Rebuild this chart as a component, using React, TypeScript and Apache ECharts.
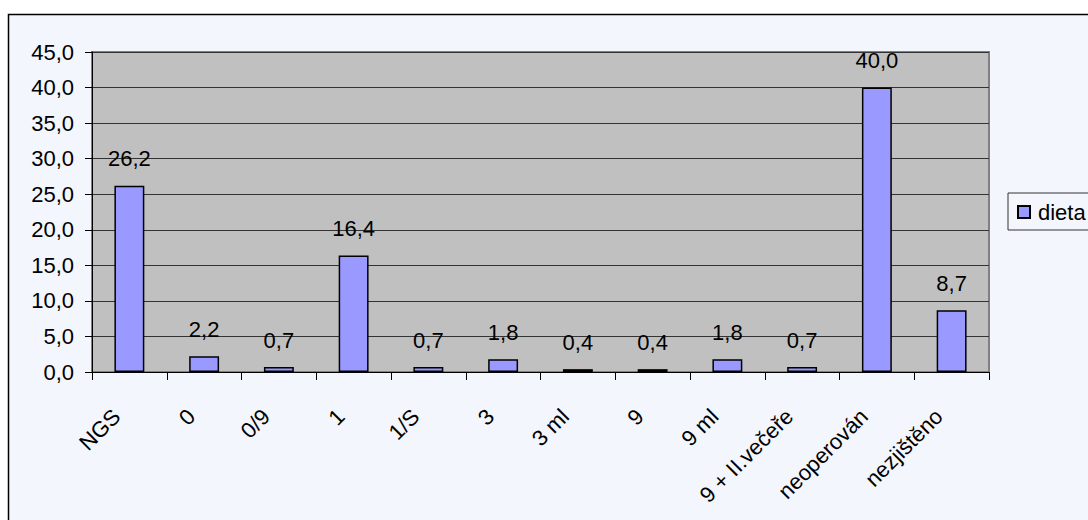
import React, { useEffect, useRef } from "react";
import * as echarts from "echarts";

const categories = [
  "NGS",
  "0",
  "0/9",
  "1",
  "1/S",
  "3",
  "3 ml",
  "9",
  "9 ml",
  "9 + II.večeře",
  "neoperován",
  "nezjištěno",
];
const dietaValues = [26.2, 2.2, 0.7, 16.4, 0.7, 1.8, 0.4, 0.4, 1.8, 0.7, 40.0, 8.7];
const yTicks = { min: 0, max: 45, interval: 5 };

const fmt = (v: number) => v.toFixed(1).replace(".", ",");
const FONT = "'Liberation Sans', Arial, sans-serif";
const FS = 22;

export default function App() {
  const ref = useRef<HTMLDivElement>(null);

  useEffect(() => {
    if (!ref.current) return;
    const chart = echarts.init(ref.current, null, { renderer: "svg" });
    chart.setOption({
      animation: false,
      backgroundColor: "#ffffff",
      textStyle: { fontFamily: FONT },
      graphic: [
        {
          type: "rect",
          z: -10,
          silent: true,
          shape: { x: 8.5, y: 14.5, width: 1100, height: 520 },
          style: { fill: "#F3F6FC", stroke: "#000000", lineWidth: 1.5 },
        },
      ],
      grid: {
        left: 92,
        top: 52,
        right: 99,
        bottom: 148,
        show: true,
        backgroundColor: "#C0C0C0",
        borderColor: "#808080",
        borderWidth: 2,
      },
      legend: {
        orient: "vertical",
        left: 1008,
        top: 193,
        padding: [8, 40, 7, 9],
        borderColor: "#333333",
        borderWidth: 1,
        itemWidth: 12,
        itemHeight: 12,
        itemGap: 0,
        icon: "rect",
        textStyle: { fontSize: FS, color: "#000", fontFamily: FONT, padding: [0, 0, 0, 3] },
        data: ["dieta"],
      },
      xAxis: {
        type: "category",
        data: categories,
        axisLine: { lineStyle: { color: "#000000", width: 1 } },
        axisTick: { show: true, length: 8, alignWithLabel: false, lineStyle: { color: "#000" } },
        axisLabel: {
          rotate: 45,
          interval: 0,
          margin: 28,
          padding: [0, 18, 0, 0],
          fontSize: FS,
          color: "#000",
          fontFamily: FONT,
        },
        splitLine: { show: false },
      },
      yAxis: {
        type: "value",
        min: yTicks.min,
        max: yTicks.max,
        interval: yTicks.interval,
        axisLine: { show: true, lineStyle: { color: "#000000", width: 1 } },
        axisTick: { show: true, length: 7, lineStyle: { color: "#000" } },
        axisLabel: {
          formatter: (v: number) => fmt(v),
          fontSize: FS,
          color: "#000",
          margin: 18,
          fontFamily: FONT,
        },
        splitLine: { show: true, lineStyle: { color: "#333333", width: 1 } },
      },
      series: [
        {
          name: "dieta",
          type: "bar",
          data: dietaValues,
          barWidth: "40%",
          itemStyle: { color: "#9999FF", borderColor: "#000000", borderWidth: 1.5 },
          label: {
            show: true,
            position: "top",
            distance: 16,
            fontSize: FS,
            color: "#000",
            fontFamily: FONT,
            formatter: (p: any) => fmt(p.value),
          },
        },
      ],
    });
    return () => chart.dispose();
  }, []);

  return (
    <div
      ref={ref}
      style={{ position: "absolute", left: 0, top: 0, width: 1088, height: 520 }}
    />
  );
}
